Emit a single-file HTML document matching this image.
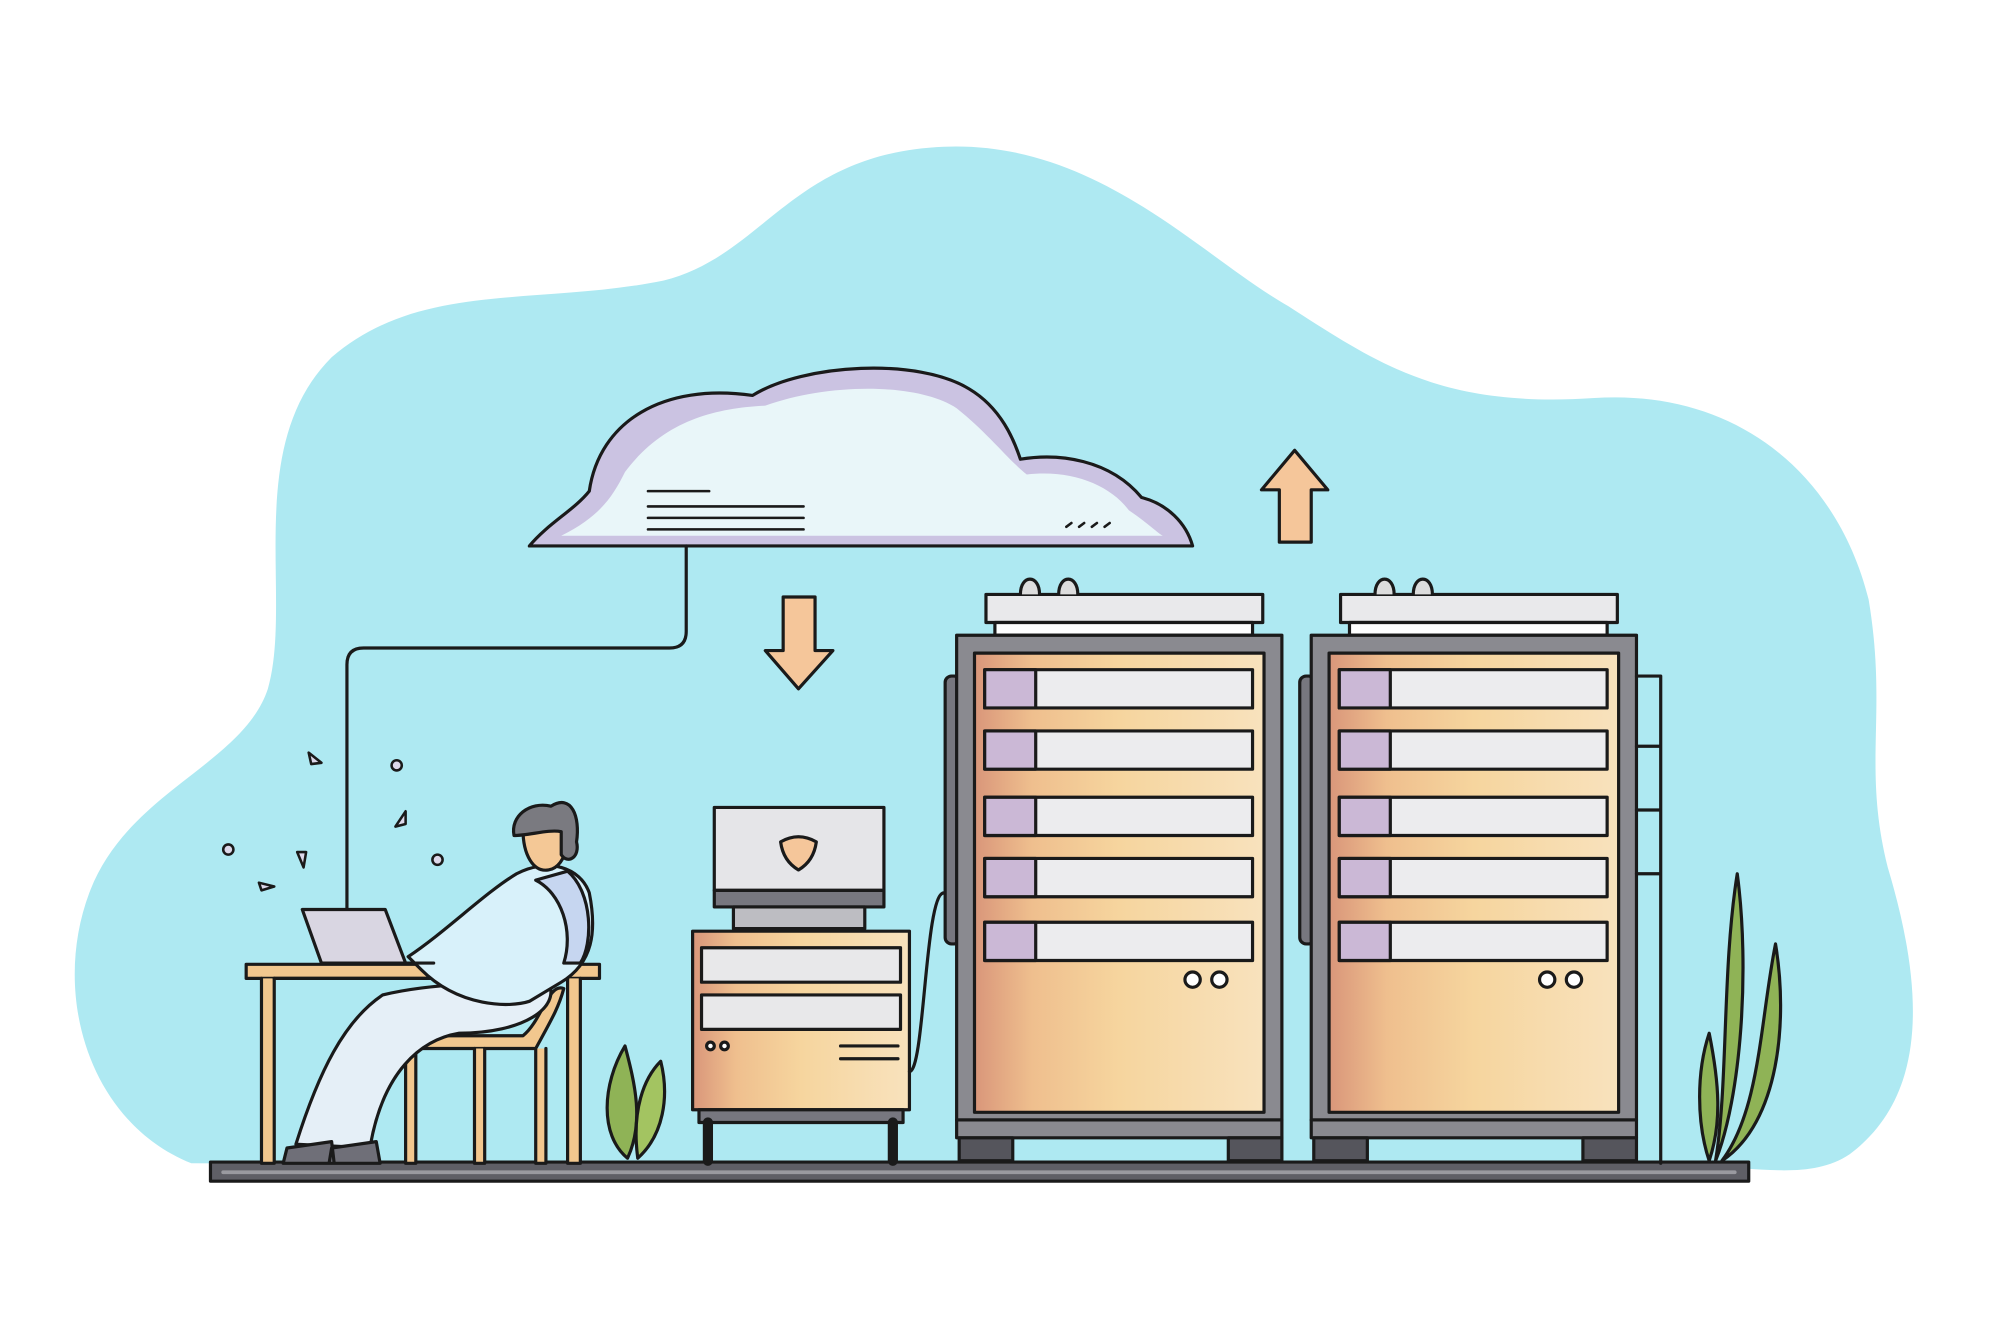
<!DOCTYPE html>
<html><head><meta charset="utf-8"><style>html,body{margin:0;padding:0;background:#fff;overflow:hidden}svg{display:block}</style></head>
<body>
<svg width="2000" height="1333" viewBox="0 0 1568 1045" xmlns="http://www.w3.org/2000/svg">
<defs>
<linearGradient id="rg" x1="0" x2="1" y1="0" y2="0"><stop offset="0" stop-color="#d9967a"/><stop offset="0.2" stop-color="#efbf8e"/><stop offset="0.5" stop-color="#f6d59e"/><stop offset="1" stop-color="#f8e2bd"/></linearGradient>
</defs>
<rect width="1568" height="1045" fill="#ffffff"/>
<path d="M150 912 C70 880 40 780 70 700 C100 620 190 600 210 540 C230 470 190 350 260 280 C330 220 420 240 520 220 C600 200 620 120 740 115 C860 110 940 200 1010 240 C1080 285 1130 320 1250 312 C1360 305 1440 370 1465 470 C1480 560 1460 600 1480 680 C1510 780 1510 860 1450 905 C1420 925 1380 915 1340 915 Z" fill="#aee9f2"/>
<g stroke="#1a1a1a" stroke-width="2.5" stroke-linejoin="round" stroke-linecap="round">
<path d="M415 428 C430 410 450 400 462 385 C470 330 520 300 590 310 C630 285 720 280 760 305 C785 320 795 345 800 360 C830 355 870 360 895 390 C915 395 930 410 935 428 Z" fill="#cbc3e2"/>
<path d="M440 420 C470 405 480 390 490 370 C520 330 560 320 600 318 C650 300 720 300 750 320 C775 340 790 360 805 372 C840 368 870 380 885 400 C900 410 910 420 912 420 Z" fill="#e9f6f9" stroke="none"/>
<g stroke-width="2"><path d="M508 385H556M508 397H630M508 406H630M508 415H630"/><path d="M836 413l4 -3M846 413l4 -3M856 413l4 -3M866 413l4 -3"/></g>
<path d="M538 428V495Q538 508 525 508H285Q272 508 272 521V712" fill="none"/>
<path d="M614 468H639V510H653L626 540L600 510H614Z" fill="#f5c69a"/>
<path d="M1003 425H1028V384H1041L1015 353L989 384H1003Z" fill="#f5c69a"/>
<rect x="165" y="911" width="1206" height="15" fill="#5f5f66"/>
<path d="M175 919H1360" stroke="#9a9aa0" stroke-width="3" fill="none"/>
<rect x="193" y="756" width="277" height="11" fill="#f2c78e"/>
<path d="M205 767V912H215V767M455 767V912H445V767" fill="#f2c78e"/>
<path d="M215 767H445" fill="none"/>
<path d="M318 822H420C432 800 438 790 442 775C430 770 425 800 410 812H318Z" fill="#f2c78e"/>
<path d="M318 822V912H326V822M372 822V912H380V822M420 822V912H428V822" fill="#f2c78e"/>
<path d="M232 897C250 840 270 800 300 780C340 770 400 770 430 770C440 790 410 810 360 810C330 815 300 840 290 900Z" fill="#e5eff7"/>
<path d="M225 900L260 895L262 912H222Z M260 900L295 895L298 912H258Z" fill="#6f6f78"/>
<path d="M320 750C350 730 380 700 405 685C430 672 455 680 462 700C468 730 465 755 440 770L415 785C400 790 360 790 330 760Z" fill="#d8f1fa"/>
<path d="M420 690C440 700 450 730 442 755L455 755C465 740 465 700 445 683Z" fill="#c6d6f0"/>
<path d="M410 650C410 635 430 630 440 640C450 650 445 680 430 682C418 684 410 670 410 650Z" fill="#f4c896"/>
<path d="M403 655C400 640 415 628 432 632C448 622 455 640 452 660C455 672 445 678 440 670L440 652C430 650 415 655 403 655Z" fill="#7a7a80"/>
<path d="M237 713H302L318 755H252Z" fill="#d9d6e2"/>
<path d="M252 755H340" fill="none"/>
<g fill="#ddd8ea" stroke-width="2"><circle cx="179" cy="666" r="4"/><circle cx="311" cy="600" r="4"/><circle cx="343" cy="674" r="4"/><path d="M242 590l10 8-8 1z"/><path d="M310 648l8-12v10z"/><path d="M203 692l12 3-10 3z"/><path d="M233 668l5 12 2-12z"/></g>
<path d="M492 908C470 890 472 850 490 820C498 850 505 880 492 908Z" fill="#8fb356"/>
<path d="M500 908C495 870 505 845 518 832C525 860 520 890 500 908Z" fill="#a3c461"/>
<path d="M1340 910C1330 880 1330 840 1340 810C1348 850 1350 880 1340 910ZM1345 910C1355 850 1350 760 1362 685C1372 760 1365 860 1345 910ZM1350 910C1380 870 1380 800 1392 740C1402 800 1395 880 1350 910Z" fill="#8fb356"/>
<rect x="560" y="633" width="133" height="65" fill="#e5e5e8"/>
<rect x="560" y="698" width="133" height="13" fill="#77777f"/>
<path d="M612 660Q626 652 640 660Q638 675 626 682Q614 675 612 660Z" fill="#f5c69a"/>
<rect x="575" y="711" width="103" height="17" fill="#bdbdc2"/>
<rect x="543" y="730" width="170" height="140" fill="url(#rg)"/>
<rect x="550" y="743" width="156" height="27" fill="#e8e8ea"/>
<rect x="550" y="780" width="156" height="27" fill="#e8e8ea"/>
<path d="M659 820H704M659 830H704" fill="none"/>
<circle cx="557" cy="820" r="3" fill="#fff"/><circle cx="568" cy="820" r="3" fill="#fff"/>
<rect x="548" y="870" width="160" height="10" fill="#77777f"/>
<path d="M555 880V910M700 880V910" fill="none" stroke-width="8"/>
<path d="M713 840C725 840 725 700 740 700" fill="none"/>
<g id="r1">
<rect x="773" y="466" width="217" height="22" fill="#e9e9eb"/>
<rect x="780" y="488" width="202" height="10" fill="#fff"/>
<path d="M800 466C800 450 815 450 815 466M830 466C830 450 845 450 845 466" fill="#ddd"/>
<rect x="741" y="530" width="12" height="210" rx="5" fill="#77777f"/>
<rect x="750" y="498" width="255" height="380" fill="#8a8a90"/>
<rect x="764" y="512" width="227" height="360" fill="url(#rg)"/>
<g fill="#ececee"><rect x="772" y="525" width="210" height="30"/><rect x="772" y="573" width="210" height="30"/><rect x="772" y="625" width="210" height="30"/><rect x="772" y="673" width="210" height="30"/><rect x="772" y="723" width="210" height="30"/></g>
<g fill="#cbb8d6"><rect x="772" y="525" width="40" height="30"/><rect x="772" y="573" width="40" height="30"/><rect x="772" y="625" width="40" height="30"/><rect x="772" y="673" width="40" height="30"/><rect x="772" y="723" width="40" height="30"/></g>
<circle cx="935" cy="768" r="6" fill="#fff"/><circle cx="956" cy="768" r="6" fill="#fff"/>
<rect x="750" y="878" width="255" height="14" fill="#8a8a90"/>
<rect x="752" y="892" width="42" height="18" fill="#55555c"/><rect x="963" y="892" width="42" height="18" fill="#55555c"/>
</g>
<use href="#r1" transform="translate(278 0)"/>
<path d="M1283 530H1302V912M1283 585H1302M1283 635H1302M1283 685H1302" fill="none"/>
</g>
</svg>
</body></html>
